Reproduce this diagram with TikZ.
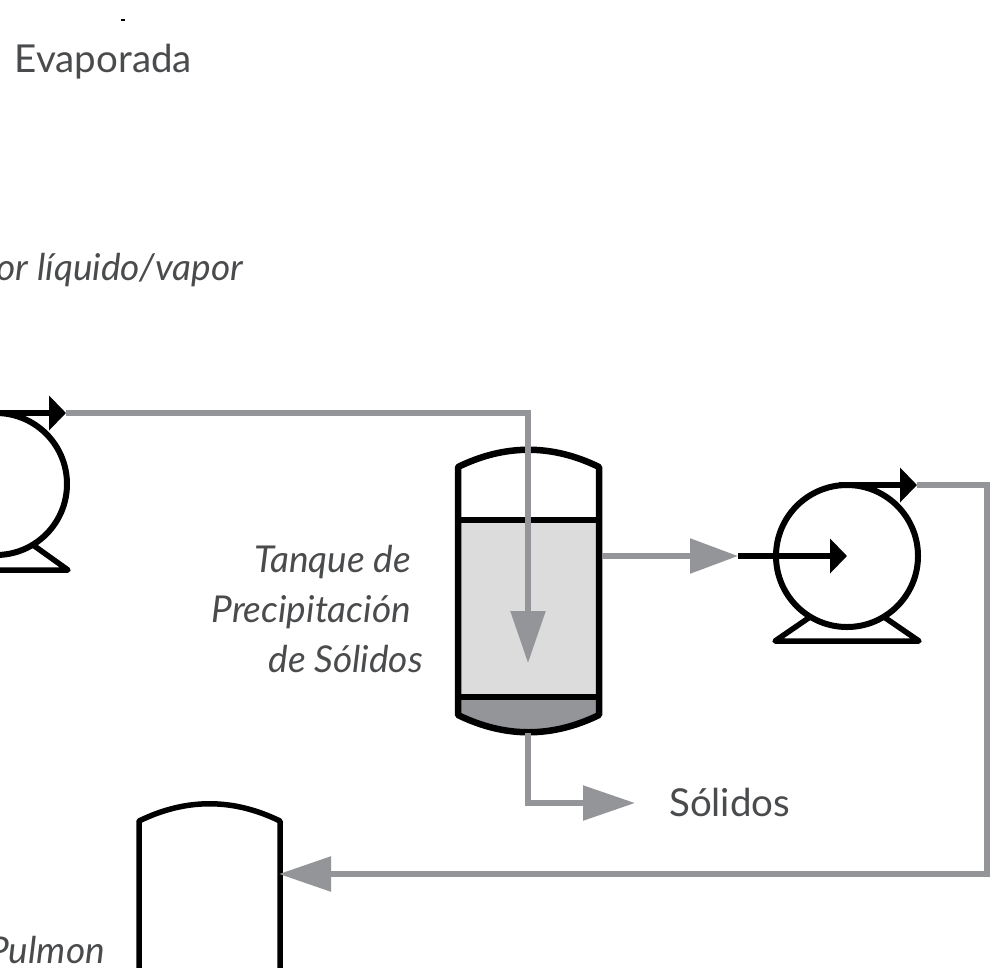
\documentclass[tikz,border=0pt]{standalone}
\usepackage{fontspec}
\setmainfont{Lato}
\usepackage{xcolor}
\usetikzlibrary{arrows.meta, positioning, calc}
\definecolor{lineagray}{HTML}{939598}
\definecolor{liquidobg}{HTML}{DBDCDB}
\definecolor{solidobg}{HTML}{939598}
\definecolor{textgray}{HTML}{4A4B4D}
\tikzset{
  etiqueta/.style={inner sep=0pt, text=textgray, font=\fontsize{38.5}{46}\selectfont},
  proceso/.style={inner sep=0pt, text=textgray, font=\fontsize{37}{46}\selectfont\itshape},
  bomba/.style={circle, draw=black, line width=6pt, fill=white, inner sep=0pt,
    outer sep=0pt, minimum size=142pt},
  recipiente/.style={rectangle, inner sep=0pt, outer sep=0pt, minimum width=141pt},
  pared/.style={draw=black, line width=6.5pt, line join=round},
  base/.style={draw=black, line width=5.5pt, line cap=round, line join=round},
  corriente/.style={draw=lineagray, line width=5.5pt,
    -{Triangle[length=52pt,width=34pt]}},
  impulso/.style={draw=black, line width=6.5pt,
    -{Triangle[length=17pt,width=34pt]}},
}
\begin{document}
\begin{tikzpicture}[x=1pt, y=-1pt]
\useasboundingbox (0,0) rectangle (995,967);
\fill[white] (0,0) rectangle (995,967);
\clip (0,0) rectangle (995,967);

% ---- Equipos ----
\node[bomba] (bombaizq) at (-4,484) {};
\node[bomba] (bombader) at (847,556) {};
\node[recipiente, minimum height=248pt] (tanque) at (528.5,591) {};
\node[recipiente, minimum height=160pt] (pulmon) at (209.5,901) {};

% ---- Tanque de precipitacion ----
\fill[liquidobg] (tanque.west |- 0,520) rectangle (tanque.east |- 0,697);
\fill[solidobg] (tanque.west |- 0,697) -- (tanque.south west)
  .. controls (505,738) and (552,738) .. (tanque.south east)
  -- (tanque.east |- 0,697) -- cycle;
\draw[pared] (tanque.south west) -- (tanque.north west)
  .. controls (505,444) and (552,444) .. (tanque.north east)
  -- (tanque.south east)
  .. controls (552,738) and (505,738) .. cycle;
\draw[pared, line width=5.5pt] (tanque.west |- 0,520) -- (tanque.east |- 0,520);
\draw[pared, line width=5.5pt] (tanque.west |- 0,697) -- (tanque.east |- 0,697);

% ---- Pulmon ----
\draw[pared, line width=5.5pt] (139,970) -- (pulmon.north west)
  .. controls (186,798) and (233,798) .. (pulmon.north east) -- (280,970);

% ---- Bases de bombas ----
\draw[base] (-60,570) -- ($(bombaizq.center)+(72,86)$) -- ($(bombaizq.center)+(37,61)$);
\draw[base] ($(bombader.center)+(-37,61)$) -- ($(bombader.center)+(-72,85)$)
  -- ($(bombader.center)+(72,85)$) -- ($(bombader.center)+(37,61)$);

% ---- Puntos de conexion ----
\coordinate (descargaizq) at (66,413);
\coordinate (descargader) at (917,485);
\coordinate (succionder) at (738,556);
\coordinate (salidatanque) at (602,556);
\coordinate (fondotanque) at (528,733);
\coordinate (entradatanque) at (528,663);
\coordinate (codo) at (987,874);
\coordinate (entradapulmon) at (279,874);
\coordinate (finsolidos) at (635,803);

% ---- Corrientes ----
\draw[corriente] (descargaizq) -| (entradatanque);
\draw[corriente, -{Triangle[length=48pt,width=34pt]}] (salidatanque) -- (succionder);
\draw[corriente] (fondotanque) |- (finsolidos);
\draw[corriente] (descargader) -| (codo) -- (entradapulmon);
\draw[impulso] (-10,413) -- (descargaizq);
\draw[impulso] ([xshift=-8pt]bombader.north) -- (descargader);
\draw[impulso] (succionder) -- (bombader.center);

% ---- Textos ----
\fill (121,19) rectangle (125,21);
\node[etiqueta, anchor=base east] (evaporada) at (192,72) {. Evaporada};
\node[etiqueta, anchor=base west] (solidos) at (669,816) {Sólidos};
\node[proceso, anchor=base east] (liqvap) at (243,280) {or líquido/vapor};
\node[proceso, anchor=base east] (tanquea) at (411,572) {Tanque de};
\node[proceso, anchor=base east] (tanqueb) at (411,622) {Precipitación};
\node[proceso, anchor=base east] (tanquec) at (423,672) {de Sólidos};
\node[proceso, anchor=base east] (pulmontxt) at (105,963) {Pulmon};

\end{tikzpicture}
\end{document}
